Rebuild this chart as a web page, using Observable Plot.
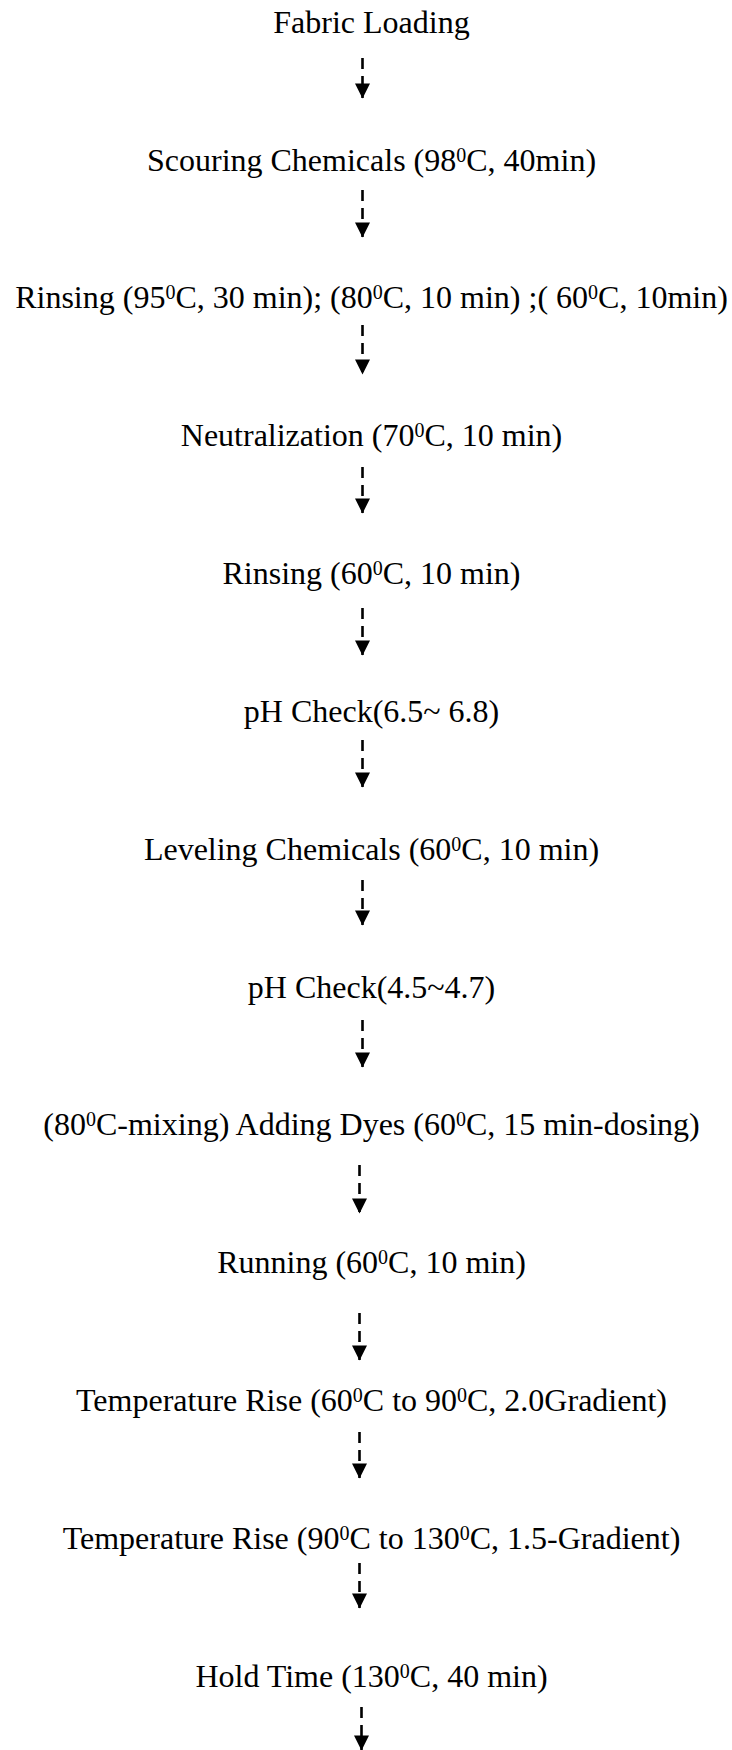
<!DOCTYPE html>
<html>
<head>
<meta charset="utf-8">
<script src="https://cdn.jsdelivr.net/npm/d3@7"></script>
<script src="https://cdn.jsdelivr.net/npm/@observablehq/plot@0.6"></script>
<style>
  html, body { margin: 0; padding: 0; background: #fff; }
  #chart svg { display: block; }
</style>
</head>
<body>
<div id="chart"></div>
<script>
// Process steps (top to bottom); "⁰" marks the superscript zero of the original
const steps = [
  "Fabric Loading",
  "Scouring Chemicals (98⁰C, 40min)",
  "Rinsing (95⁰C, 30 min); (80⁰C, 10 min) ;( 60⁰C, 10min)",
  "Neutralization (70⁰C, 10 min)",
  "Rinsing (60⁰C, 10 min)",
  "pH Check(6.5~ 6.8)",
  "Leveling Chemicals (60⁰C, 10 min)",
  "pH Check(4.5~4.7)",
  "(80⁰C-mixing) Adding Dyes (60⁰C, 15 min-dosing)",
  "Running (60⁰C, 10 min)",
  "Temperature Rise (60⁰C to 90⁰C, 2.0Gradient)",
  "Temperature Rise (90⁰C to 130⁰C, 1.5-Gradient)",
  "Hold Time (130⁰C, 40 min)"
];
// Arrow start / end, in step units (step i sits at i)
const arrowStart = [0.261, 1.219, 2.198, 3.229, 4.252, 5.209, 6.225, 7.241, 8.293, 9.367, 10.230, 11.180, 12.225];
const arrowEnd   = [0.551, 1.560, 2.554, 3.562, 4.593, 5.550, 6.552, 7.582, 8.641, 9.708, 10.564, 11.507, 12.537];
// Horizontal offset of each arrow from page centre
const arrowShift = [-4, -4, -4, -4, -4, -4, -4, -4, -7, -7, -7, -7, -5];
const textShift = 5;

const stepData = steps.map((label, i) => ({label, i, x: textShift}));
const arrowData = arrowStart.map((s, i) => ({s, e: arrowEnd[i], x: arrowShift[i]}));

const downTriangle = {
  draw(ctx) {
    ctx.moveTo(0, 0);
    ctx.lineTo(-7.5, -15);
    ctx.lineTo(7.5, -15);
    ctx.closePath();
  }
};

const chart = Plot.plot({
  width: 732,
  height: 1750,
  margin: 0,
  x: {domain: [-366, 366], range: [0, 732], axis: null},
  y: {domain: [0, 12], range: [22, 1676], axis: null},
  style: {background: "#fff"},
  marks: [
    Plot.ruleX(arrowData, {x: "x", y1: "s", y2: "e", stroke: "#000", strokeWidth: 2.6, strokeDasharray: "11,7"}),
    Plot.dot(arrowData, {x: "x", y: "e", symbol: downTriangle, fill: "#000", stroke: "none", r: 5}),
    Plot.text(stepData, {
      x: "x", y: "i", text: "label",
      fontSize: 32,
      fontFamily: "'Liberation Serif', 'Times New Roman', serif",
      fill: "#000",
      textAnchor: "middle",
      lineAnchor: "middle"
    })
  ]
});

// Render the superscript zero as a raised, smaller "0"
const supSize = 20, supShift = 9;
d3.select(chart).selectAll("text").each(function () {
  const t = this.textContent;
  if (!t.includes("⁰")) return;
  const sel = d3.select(this);
  sel.text(null);
  t.split("⁰").forEach((part, k) => {
    if (k > 0) {
      sel.append("tspan").attr("font-size", supSize).attr("dy", -supShift).text("0");
      sel.append("tspan").attr("dy", supShift).text(part);
    } else {
      sel.append("tspan").text(part);
    }
  });
});

document.getElementById("chart").appendChild(chart);
</script>
</body>
</html>
